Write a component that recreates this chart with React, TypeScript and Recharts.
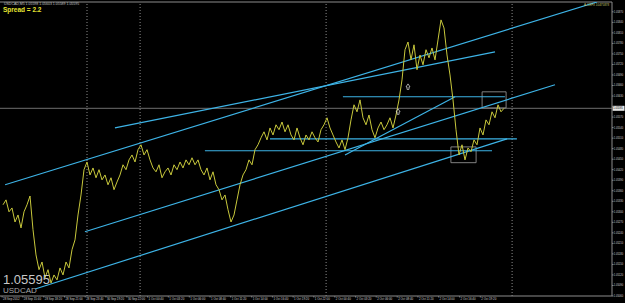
import { ComposedChart, Line, XAxis, YAxis, ReferenceLine, ReferenceArea, ReferenceDot } from 'recharts';

// USDCAD closes, one point per bar slot
const closes = [
  1.0532, 1.05334, 1.053, 1.05311, 1.05271, 1.05291, 1.05254, 1.053, 1.0532, 1.05345,
  1.05249, 1.05177, 1.05135, 1.05157, 1.05112, 1.05135, 1.05097, 1.0512, 1.05106, 1.0514,
  1.0512, 1.05157, 1.0514, 1.05192, 1.0522, 1.05291, 1.05348, 1.0542, 1.05442, 1.05405,
  1.05425, 1.05397, 1.0542, 1.05391, 1.05405, 1.05377, 1.05397, 1.05363, 1.05385, 1.05405,
  1.05434, 1.0542, 1.05448, 1.05462, 1.05442, 1.05477, 1.05491, 1.05462, 1.05477, 1.05448,
  1.05425, 1.05414, 1.05434, 1.05397, 1.05414, 1.05425, 1.05405, 1.05434, 1.0542, 1.05442,
  1.05425, 1.05448, 1.05434, 1.05454, 1.05434, 1.05448, 1.0542, 1.05405, 1.05425, 1.05391,
  1.05414, 1.05377, 1.05363, 1.05334, 1.05348, 1.05306, 1.05271, 1.05291, 1.05334, 1.05377,
  1.05405, 1.0542, 1.05448, 1.05434, 1.05477, 1.05491, 1.05511, 1.05528, 1.05505, 1.05539,
  1.05519, 1.05548, 1.05534, 1.05556, 1.05528, 1.05548, 1.05519, 1.05505, 1.05539, 1.05511,
  1.05491, 1.05519, 1.05505, 1.05528, 1.05511, 1.05499, 1.05534, 1.05548, 1.05568, 1.05539,
  1.05519, 1.05499, 1.05482, 1.05505, 1.05477, 1.05511, 1.05562, 1.05605, 1.05585, 1.05619,
  1.05568, 1.05548, 1.05576, 1.05534, 1.05511, 1.05539, 1.05556, 1.05534, 1.05548, 1.05568,
  1.05539, 1.05576, 1.05619, 1.05676, 1.05762, 1.05784, 1.05733, 1.05776, 1.05705, 1.05747,
  1.05719, 1.05762, 1.05739, 1.05767, 1.05733, 1.0579, 1.05847, 1.05824, 1.05747, 1.0569,
  1.05619, 1.05534, 1.05462, 1.05491, 1.05448, 1.05482, 1.05471, 1.05505, 1.05491, 1.05539,
  1.05519, 1.05562, 1.05548, 1.05585, 1.05568, 1.05605, 1.05585, 1.05595,
];

const timeLabels = [
  '28 Sep 2012', '28 Sep 15:40', '28 Sep 18:20', '28 Sep 21:00', '28 Sep 23:40', '30 Sep 19:20',
  '30 Sep 22:00', '1 Oct 00:40', '1 Oct 03:20', '1 Oct 06:00', '1 Oct 08:40', '1 Oct 11:20',
  '1 Oct 14:00', '1 Oct 16:40', '1 Oct 19:20', '1 Oct 22:00', '2 Oct 00:40', '2 Oct 03:20',
  '2 Oct 06:00', '2 Oct 08:40', '2 Oct 11:20', '2 Oct 14:00', '2 Oct 16:40', '2 Oct 19:20',
];
const timeTicks = [
  0.7, 7.6, 14.6, 21.5, 28.4, 35.3, 42.3, 49.2, 56.1, 63.1, 70.0, 76.9,
  83.9, 90.8, 97.7, 104.6, 111.6, 118.5, 125.4, 132.4, 139.3, 146.2, 153.2, 160.1,
];

const priceTicks = [
  1.0587, 1.0584, 1.0581, 1.0578, 1.0575, 1.0572, 1.0569, 1.0566, 1.0563, 1.056,
  1.0557, 1.0554, 1.0551, 1.0548, 1.0545, 1.0542, 1.0539, 1.0536, 1.0533, 1.053,
  1.0527, 1.0524, 1.0521, 1.0518, 1.0515, 1.0512, 1.0509, 1.0506,
];

const daySeparators = [29, 46.7, 108.7, 170.7];
const bid = 1.05595;

// trend lines: [bar, price] -> [bar, price]
const trendLines = [
  [[1.7, 1.05377], [199, 1.05898]],
  [[38.3, 1.05539], [165, 1.05756]],
  [[28.3, 1.05243], [185, 1.05662]],
  [[11.7, 1.0508], [169, 1.05508]],
  [[68.3, 1.05474], [164, 1.05474]],
  [[90, 1.05508], [172.3, 1.05508]],
  [[114.3, 1.05628], [168.3, 1.05628]],
  [[115, 1.05462], [151.7, 1.05628]],
];

const boxes = [
  { x1: 150.3, x2: 158.7, y1: 1.0544, y2: 1.05485 },
  { x1: 160.7, x2: 168.7, y1: 1.05596, y2: 1.05642 },
];

// small arrow objects on the chart
const arrows = [
  { bar: 136, price: 1.05656 },
  { bar: 132.7, price: 1.05585 },
];

const data = closes.map((p, k) => ({ bar: k + 1, p }));

const GRID = '#8c8c8c';
const LINE_BLUE = '#3db3e6';
const FONT = '"Liberation Sans", Arial, sans-serif';

function TimeTick({ x, y, payload }: any) {
  const idx = timeTicks.indexOf(payload.value);
  return (
    <g>
      <line x1={x} y1={y} x2={x} y2={y + 1.5} stroke={GRID} strokeWidth={0.8} />
      <text x={x + 1} y={y + 4.3} fontSize={2.9} fill="#d0d0d0" fontFamily={FONT}>
        {timeLabels[idx]}
      </text>
    </g>
  );
}

function PriceTick({ x, y, payload }: any) {
  if (Math.abs(payload.value - bid) < 0.0001) return <g />;
  return (
    <text x={x + 0.3} y={y + 1} fontSize={2.6} fill="#d0d0d0" fontFamily={FONT}>
      {payload.value.toFixed(5)}
    </text>
  );
}

function BidLabel({ viewBox }: any) {
  const x = viewBox.x + viewBox.width;
  return (
    <g>
      <rect x={x + 0.5} y={viewBox.y - 2.5} width={12} height={5} fill="#e8e8e8" />
      <text x={x + 1.3} y={viewBox.y + 1} fontSize={2.6} fill="#000" fontFamily={FONT}>
        {bid.toFixed(5)}
      </text>
    </g>
  );
}

function ArrowMark({ cx, cy }: any) {
  return (
    <path
      d={`M${cx - 2},${cy} L${cx},${cy - 3} L${cx + 2},${cy} L${cx + 1},${cy} L${cx + 1},${cy + 2.5} L${cx - 1},${cy + 2.5} L${cx - 1},${cy} Z`}
      fill="none"
      stroke="#e0e0e0"
      strokeWidth={0.7}
    />
  );
}

export default function App() {
  return (
    <div style={{ position: 'fixed', left: 0, top: 0, width: 625, height: 303, background: '#000', overflow: 'hidden' }}>
      <ComposedChart width={625} height={303} data={data} margin={{ top: 2, right: 0, bottom: 0, left: 0 }}>
        <XAxis
          type="number"
          dataKey="bar"
          domain={[0, 204]}
          ticks={timeTicks}
          interval={0}
          height={7}
          axisLine={{ stroke: GRID }}
          tickLine={false}
          tickSize={0}
          tickMargin={0}
          tick={<TimeTick />}
        />
        <YAxis
          orientation="right"
          type="number"
          domain={[1.0506, 1.05898]}
          ticks={priceTicks}
          interval={0}
          width={13}
          axisLine={{ stroke: GRID }}
          tickLine={{ stroke: GRID }}
          tickSize={1.5}
          tickMargin={0}
          tick={<PriceTick />}
        />
        <ReferenceLine y={1.05898} stroke={GRID} />
        {daySeparators.map((d) => (
          <ReferenceLine key={d} x={d} stroke={GRID} strokeDasharray="1 2" />
        ))}
        <ReferenceLine y={bid} stroke={GRID} strokeWidth={0.8} label={<BidLabel />} />
        {boxes.map((b, k) => (
          <ReferenceArea key={k} x1={b.x1} x2={b.x2} y1={b.y1} y2={b.y2} fill="none" stroke="#a0a0a0" strokeWidth={0.8} />
        ))}
        {trendLines.map((s, k) => (
          <ReferenceLine
            key={k}
            segment={[{ x: s[0][0], y: s[0][1] }, { x: s[1][0], y: s[1][1] }]}
            stroke={LINE_BLUE}
            strokeWidth={1.2}
            ifOverflow="hidden"
          />
        ))}
        <Line type="linear" dataKey="p" stroke="#c8c83c" strokeWidth={1} dot={false} isAnimationActive={false} />
        {arrows.map((a, k) => (
          <ReferenceDot key={k} x={a.bar} y={a.price} r={2} shape={<ArrowMark />} />
        ))}
      </ComposedChart>
      <div style={{ position: 'absolute', left: 4, top: 2, fontSize: 3.5, color: '#c0c0c0', fontFamily: FONT, whiteSpace: 'nowrap' }}>
        USDCAD,M5 1.05598 1.05603 1.05589 1.05595
      </div>
      <div style={{ position: 'absolute', left: 3, top: 6, fontSize: 6.5, fontWeight: 'bold', color: '#e6e632', fontFamily: FONT, whiteSpace: 'nowrap' }}>
        Spread = 2.2
      </div>
      <div style={{ position: 'absolute', left: 584, top: 3, fontSize: 3, color: '#c8c870', fontFamily: FONT, whiteSpace: 'nowrap' }}>
        A-CEFX 10475878
      </div>
      <div style={{ position: 'absolute', left: 3, top: 272, fontSize: 13, color: '#c8c8c8', fontFamily: FONT, whiteSpace: 'nowrap' }}>
        1.05595
      </div>
      <div style={{ position: 'absolute', left: 3, top: 286, fontSize: 8, color: '#a8a8a8', fontFamily: FONT, whiteSpace: 'nowrap' }}>
        USDCAD
      </div>
    </div>
  );
}
